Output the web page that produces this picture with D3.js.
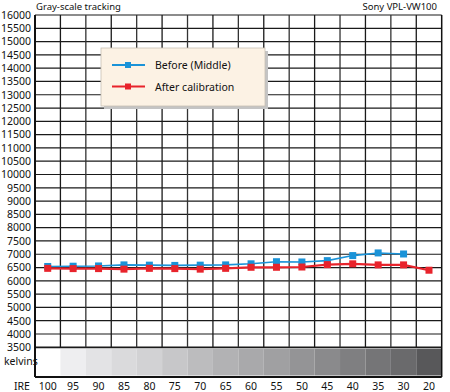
<!DOCTYPE html>
<html>
<head>
<meta charset="utf-8">
<script src="https://cdn.jsdelivr.net/npm/d3@7"></script>
<style>
  body { margin: 0; background: #fff; }
  text { font-family: "Noto Sans", "Open Sans", sans-serif; fill: #111; }
</style>
</head>
<body>
<script>
// IRE steps (x categories)
var ire = ["100", "95", "90", "85", "80", "75", "70", "65", "60", "55", "50", "45", "40", "35", "30", "20"];
// colour temperature readings, kelvins
var before = [6540, 6550, 6560, 6600, 6590, 6580, 6590, 6600, 6640, 6720, 6710, 6760, 6950, 7050, 7010, null];
var after = [6470, 6460, 6460, 6440, 6470, 6460, 6440, 6470, 6510, 6510, 6520, 6610, 6640, 6600, 6600, 6400];
// gray level of each patch in the kelvins strip (0-255)
var grayLevels = [255, 238, 227, 218, 210, 199, 188, 178, 169, 160, 148, 138, 127, 117, 106, 88];
var yTicks = d3.range(3500, 16001, 500);

var width = 450, height = 392;
// plot box (window.top is read-only, so no "top" here)
var plotL = 35, plotR = 441.7, plotT = 15, plotB = 347.3, stripB = 377;

var svg = d3.select("body").append("svg")
  .attr("width", width)
  .attr("height", height);

var x = d3.scaleBand().domain(ire).range([plotL, plotR]);
var y = d3.scaleLinear().domain([3500, 16000]).range([plotB, plotT]);

// titles
svg.append("text").attr("x", 36).attr("y", 10)
  .style("font-size", "9.5px").text("Gray-scale tracking");
svg.append("text").attr("x", 437).attr("y", 10).attr("text-anchor", "end")
  .style("font-size", "9.5px").text("Sony VPL-VW100");

// gray strip
svg.selectAll(".patch").data(ire).enter().append("rect")
  .attr("class", "patch")
  .attr("x", function (d) { return x(d); })
  .attr("y", plotB + 1.5)
  .attr("width", x.bandwidth())
  .attr("height", stripB - plotB - 3)
  .attr("fill", function (d, i) { var g = grayLevels[i]; return d3.rgb(g, g, Math.min(255, g + 2)); });

// horizontal grid
svg.selectAll(".hgrid").data(yTicks).enter().append("line")
  .attr("class", "hgrid")
  .attr("x1", plotL).attr("x2", plotR)
  .attr("y1", function (d) { return y(d); })
  .attr("y2", function (d) { return y(d); })
  .attr("stroke", "#1a1a1a")
  .attr("stroke-width", function (d) { return d === 3500 ? 1.8 : 1.2; });

// vertical grid
var vlines = ire.slice(1).map(function (d) { return x(d); });
svg.selectAll(".vgrid").data(vlines).enter().append("line")
  .attr("class", "vgrid")
  .attr("x1", function (d) { return d; }).attr("x2", function (d) { return d; })
  .attr("y1", plotT).attr("y2", plotB)
  .attr("stroke", function (d, i) { return i % 2 ? "#333" : "#1a1a1a"; })
  .attr("stroke-width", 1.3);

// frame
svg.append("line").attr("x1", plotL).attr("x2", plotL).attr("y1", plotT).attr("y2", stripB)
  .attr("stroke", "#111").attr("stroke-width", 2);
svg.append("line").attr("x1", plotR).attr("x2", plotR).attr("y1", plotT).attr("y2", stripB)
  .attr("stroke", "#111").attr("stroke-width", 1.5);
svg.append("line").attr("x1", plotL).attr("x2", plotR).attr("y1", stripB).attr("y2", stripB)
  .attr("stroke", "#111").attr("stroke-width", 1.8);

// y axis labels
svg.selectAll(".ylab").data(yTicks).enter().append("text")
  .attr("class", "ylab")
  .attr("x", 31)
  .attr("y", function (d) { return y(d) + 1; })
  .attr("text-anchor", "end")
  .attr("dominant-baseline", "middle")
  .style("font-size", "10.5px")
  .text(function (d) { return d; });

svg.append("text").attr("x", 4).attr("y", 365).style("font-size", "10.5px").text("kelvins");

// x axis labels
svg.selectAll(".xlab").data(ire).enter().append("text")
  .attr("class", "xlab")
  .attr("x", function (d) { return x(d) + x.bandwidth() / 2; })
  .attr("y", 390)
  .attr("text-anchor", "middle")
  .style("font-size", "10.5px")
  .text(function (d) { return d; });
svg.append("text").attr("x", 22).attr("y", 390).attr("text-anchor", "middle")
  .style("font-size", "10.5px").text("IRE");

// series
var series = [
  { name: "Before (Middle)", values: before, color: "#1a93d8", lw: 1.6 },
  { name: "After calibration", values: after, color: "#e8232b", lw: 2.2 }
];

var line = d3.line()
  .defined(function (d) { return d != null; })
  .x(function (d, i) { return x(ire[i]) + x.bandwidth() / 2; })
  .y(function (d) { return y(d); });

series.forEach(function (s) {
  svg.append("path")
    .attr("d", line(s.values))
    .attr("fill", "none")
    .attr("stroke", s.color)
    .attr("stroke-width", s.lw);
  svg.selectAll(null).data(s.values.map(function (v, i) { return { v: v, i: i }; })
      .filter(function (d) { return d.v != null; }))
    .enter().append("rect")
    .attr("x", function (d) { return x(ire[d.i]) + x.bandwidth() / 2 - 3.5; })
    .attr("y", function (d) { return y(d.v) - 3.5; })
    .attr("width", 7).attr("height", 7)
    .attr("fill", s.color);
});

// legend
var lg = svg.append("g");
lg.append("rect").attr("x", 104).attr("y", 51).attr("width", 164).attr("height", 58)
  .attr("fill", "#c4c4c4");
lg.append("rect").attr("x", 101).attr("y", 48).attr("width", 164).attr("height", 58)
  .attr("fill", "#fcf2e4").attr("stroke", "#c9c0b4").attr("stroke-width", 0.8);
series.forEach(function (s, i) {
  var ly = 65 + i * 21.5;
  lg.append("line").attr("x1", 112).attr("x2", 145).attr("y1", ly).attr("y2", ly)
    .attr("stroke", s.color).attr("stroke-width", 2);
  lg.append("rect").attr("x", 125).attr("y", ly - 3).attr("width", 6).attr("height", 6)
    .attr("fill", s.color);
  lg.append("text").attr("x", 155).attr("y", ly + 4)
    .style("font-size", "10.5px").text(s.name);
});
</script>
</body>
</html>
